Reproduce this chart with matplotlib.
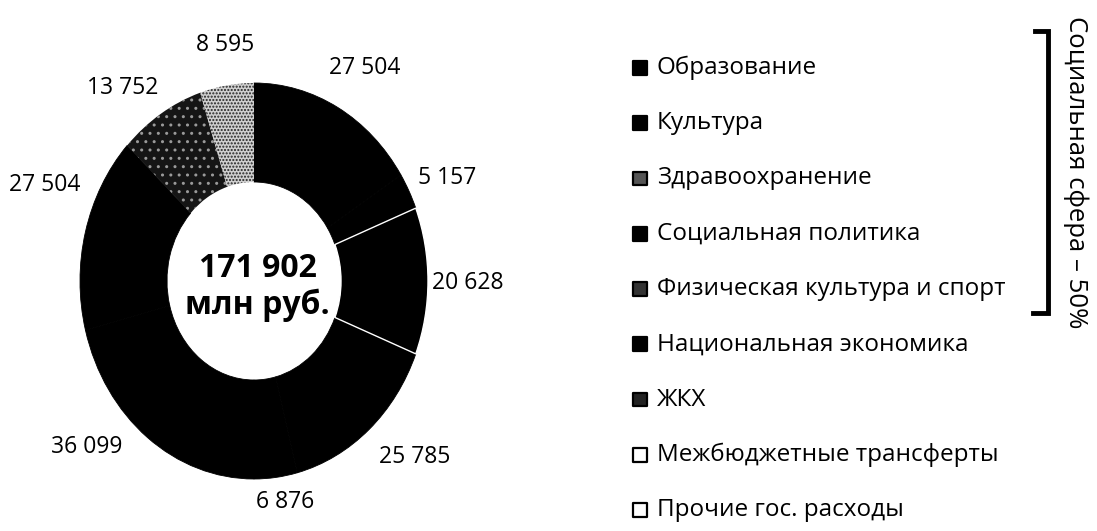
import numpy as np
import matplotlib
matplotlib.use("Agg")
import matplotlib.pyplot as plt

# Бюджет: расходы по направлениям, млн руб.
categories = ["Образование", "Культура", "Здравоохранение", "Социальная политика",
              "Физическая культура и спорт", "Национальная экономика", "ЖКХ",
              "Межбюджетные трансферты", "Прочие гос. расходы"]
values = [27504, 5157, 20628, 25785, 6876, 36099, 27504, 13752, 8595]
value_labels = ["27 504", "5 157", "20 628", "25 785", "6 876",
                "36 099", "27 504", "13 752", "8 595"]
total_label = "171 902\nмлн руб."
bracket_label = "Социальная сфера – 50%"

plt.rcParams['font.family'] = ['Open Sans', 'DejaVu Sans']

W, H = 1097, 531
fig = plt.figure(figsize=(W / 100, H / 100), dpi=100)

# donut is slightly stretched vertically in the scan: 348 x 397 px
cx, cy, rx, ry = 254, 281, 174, 198
aw, ah = rx * 2 * 1.25, ry * 2 * 1.25
ax = fig.add_axes([(cx - aw / 2) / W, (H - cy - ah / 2) / H, aw / W, ah / H])

wedge_colors = ["black", "black", "black", "black", "black", "black", "black",
                "#151515", "#cfcfcf"]
wedges, _ = ax.pie(values, startangle=90, counterclock=False, colors=wedge_colors,
                   radius=1.0, wedgeprops=dict(width=0.5, edgecolor='black',
                                               linewidth=0.6))
ax.set_aspect('auto')
ax.set_xlim(-1.25, 1.25)
ax.set_ylim(-1.25, 1.25)
ax.axis('off')

# visible white seams around "Здравоохранение"
wedges[2].set_edgecolor('white')
wedges[2].set_linewidth(1.0)
wedges[2].set_zorder(3)
# speckled slices
wedges[7].set_edgecolor('#9a9a9a')
wedges[7].set_hatch('..')
wedges[7].set_linewidth(0)
wedges[8].set_edgecolor('#222222')
wedges[8].set_hatch('.....')
wedges[8].set_linewidth(0)

# value labels (pixel positions from the scan)
label_px = [(365, 68), (447, 178), (468, 283), (415, 457), (285, 502),
            (87, 447), (45, 185), (123, 88), (225, 45)]
for (px, py), txt in zip(label_px, value_labels):
    ax.text((px - cx) / rx, (cy - py) / ry, txt, ha='center', va='center',
            fontsize=16.5, color='black')

ax.text(0.02, -0.03, total_label, ha='center', va='center', fontsize=23,
        fontweight='bold', linespacing=1.15, color='black')

# overlay axes in pixel coordinates for legend and bracket
lax = fig.add_axes([0, 0, 1, 1])
lax.set_xlim(0, W)
lax.set_ylim(H, 0)
lax.axis('off')

rows_y = 68 + 55.25 * np.arange(len(categories))
legend_face = ["black", "black", "#555555", "black", "#333333", "black", "#222222",
               "white", "white"]
lax.scatter(np.full(len(categories), 640), rows_y, marker='s', s=95,
            c=legend_face, edgecolors='black', linewidths=1.6)
for y, name in zip(rows_y, categories):
    lax.text(657, y, name, ha='left', va='center', fontsize=17.5, color='black')

# bracket for social sphere
lax.plot([1035, 1048, 1048, 1033], [31, 31, 313, 313], color='black', lw=3.5,
         solid_joinstyle='miter')
lax.text(1076, 172, bracket_label, rotation=-90, ha='center', va='center',
         fontsize=18.5, color='black')

fig.savefig("out.png", dpi=100)
